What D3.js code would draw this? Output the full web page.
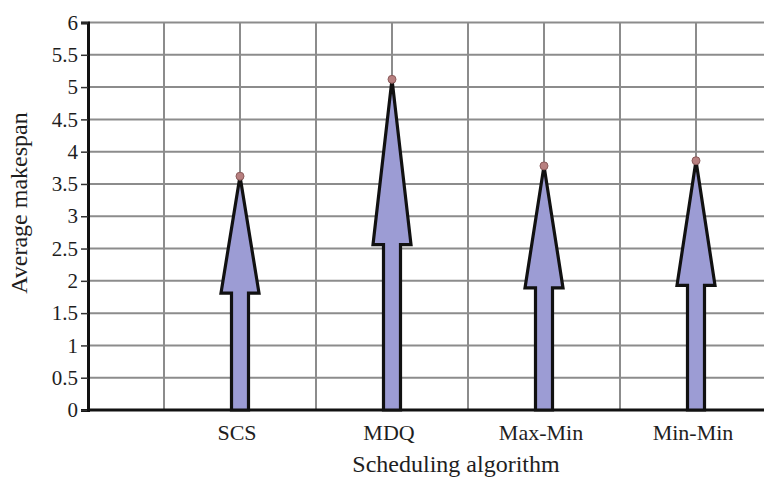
<!DOCTYPE html>
<html>
<head>
<meta charset="utf-8">
<script src="https://d3js.org/d3.v7.min.js"></script>
<style>
  html, body { margin: 0; padding: 0; background: #fff; }
  svg { display: block; }
  text { font-family: "Liberation Serif", "Times New Roman", serif; fill: #1e1e1e; }
</style>
</head>
<body>
<script>
// ---- data ----
const categories = ["SCS", "MDQ", "Max-Min", "Min-Min"];
const values = [3.62, 5.12, 3.78, 3.86];
const yTicks = [0, 0.5, 1, 1.5, 2, 2.5, 3, 3.5, 4, 4.5, 5, 5.5, 6];
const yTickLabels = ["0", "0.5", "1", "1.5", "2", "2.5", "3", "3.5", "4", "4.5", "5", "5.5", "6"];
const xGridSlots = [1, 2, 3, 4, 5, 6, 7, 8];
const xTitle = "Scheduling algorithm";
const yTitle = "Average makespan";

// ---- layout ----
const W = 764, H = 482;
const svg = d3.select("body").append("svg").attr("width", W).attr("height", H);

const x = d3.scaleLinear().domain([0, 8.9]).range([88, 764.4]);
const y = d3.scaleLinear().domain([0, 6]).range([410, 22.5]);
const catPos = i => x(2 * (i + 1));

// horizontal grid
svg.append("g").selectAll("line").data(yTicks.filter(v => v > 0)).join("line")
  .attr("x1", x(0)).attr("x2", W)
  .attr("y1", d => y(d)).attr("y2", d => y(d))
  .attr("stroke", "#8c8c8c").attr("stroke-width", 2);

// vertical grid
svg.append("g").selectAll("line").data(xGridSlots).join("line")
  .attr("x1", d => x(d)).attr("x2", d => x(d))
  .attr("y1", y(6)).attr("y2", y(0))
  .attr("stroke", "#8c8c8c").attr("stroke-width", 2);

// y axis via d3 axis
const yAxis = d3.axisLeft(y).tickValues(yTicks)
  .tickFormat((d, i) => yTickLabels[i]).tickSize(7).tickPadding(3);
const ya = svg.append("g").attr("transform", `translate(${x(0)},0)`).call(yAxis);
ya.select(".domain").attr("stroke", "#111").attr("stroke-width", 3);
ya.selectAll(".tick line").attr("stroke", "#333").attr("stroke-width", 1.5);
ya.selectAll(".tick text").attr("font-size", 21).attr("font-family", "Liberation Serif").attr("fill", "#1e1e1e");

// x axis line
svg.append("line")
  .attr("x1", x(0) - 1).attr("x2", W)
  .attr("y1", y(0)).attr("y2", y(0))
  .attr("stroke", "#111").attr("stroke-width", 3);

// arrows
const headHalf = 19, shaftHalf = 8.5;
function arrowPath(cx, v) {
  const top = y(v), base = y(0), headBase = y(v / 2);
  return `M${cx},${top} L${cx + headHalf},${headBase} L${cx + shaftHalf},${headBase} L${cx + shaftHalf},${base} ` +
         `L${cx - shaftHalf},${base} L${cx - shaftHalf},${headBase} L${cx - headHalf},${headBase} Z`;
}
svg.append("g").selectAll("path").data(values).join("path")
  .attr("d", (d, i) => arrowPath(catPos(i), d))
  .attr("fill", "#9c9cd4")
  .attr("stroke", "#111")
  .attr("stroke-width", 3.2)
  .attr("stroke-linejoin", "miter")
  .attr("stroke-miterlimit", 3);

// top markers
svg.append("g").selectAll("circle").data(values).join("circle")
  .attr("cx", (d, i) => catPos(i)).attr("cy", d => y(d))
  .attr("r", 4).attr("fill", "#b88080").attr("stroke", "#8a5a5a").attr("stroke-width", 1);

// category labels
svg.append("g").selectAll("text").data(categories).join("text")
  .attr("x", (d, i) => catPos(i) - 3).attr("y", 440)
  .attr("text-anchor", "middle").attr("font-size", 22)
  .text(d => d);

// axis titles
svg.append("text").attr("x", 456).attr("y", 472)
  .attr("text-anchor", "middle").attr("font-size", 24).text(xTitle);
svg.append("text")
  .attr("transform", `translate(27,203) rotate(-90)`)
  .attr("text-anchor", "middle").attr("font-size", 24).text(yTitle);
</script>
</body>
</html>
